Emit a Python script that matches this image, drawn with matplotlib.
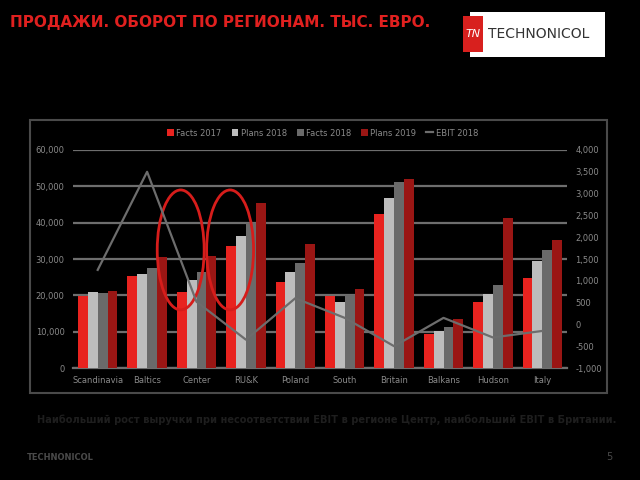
import matplotlib
matplotlib.use("Agg")
from matplotlib import pyplot as plt
from matplotlib.patches import Rectangle, Ellipse
import numpy as np

regions = ["Scandinavia", "Baltics", "Center", "RU&K", "Poland", "South",
           "Britain", "Balkans", "Hudson", "Italy"]
facts_2017 = [19800, 25400, 20800, 33600, 23700, 19800, 42300, 9300, 18100, 24700]
plans_2018 = [20900, 26000, 24200, 36300, 26300, 18300, 46700, 10200, 20400, 29400]
facts_2018 = [20600, 27600, 26300, 40000, 28800, 20100, 51100, 11400, 22800, 32500]
plans_2019 = [21200, 30600, 30800, 45500, 34000, 21700, 52000, 13500, 41400, 35200]
ebit_2018 = [1250, 3500, 520, -350, 600, 150, -500, 150, -300, -150]

series = [("Facts 2017", facts_2017, "#e8231f"),
          ("Plans 2018", plans_2018, "#bdbdbd"),
          ("Facts 2018", facts_2018, "#6a6a6a"),
          ("Plans 2019", plans_2019, "#9a1614")]

txt = "#8a8a8a"
grid = "#6e6e6e"

fig = plt.figure(figsize=(6.4, 4.8), dpi=100, facecolor="black")

# title and logo
fig.text(10/640, 1 - 22/480, "ПРОДАЖИ. ОБОРОТ ПО РЕГИОНАМ. ТЫС. ЕВРО.",
         color="#e0201f", fontsize=11, fontweight="bold", va="center")
fig.patches.append(Rectangle((470/640, 1 - 57/480), 135/640, 45/480,
                             transform=fig.transFigure, facecolor="white",
                             edgecolor="none"))
fig.patches.append(Rectangle((463/640, 1 - 52/480), 20/640, 36/480,
                             transform=fig.transFigure, facecolor="#d8201e",
                             edgecolor="none"))
fig.text(473/640, 1 - 34/480, "TN", color="white", fontsize=8, style="italic",
         ha="center", va="center")
fig.text(488/640, 1 - 34/480, "TECHNONICOL", color="#333333", fontsize=10,
         va="center", fontweight="medium")

# chart frame
fig.patches.append(Rectangle((30/640, 1 - 393/480), 577/640, 273/480,
                             transform=fig.transFigure, facecolor="none",
                             edgecolor="#4a4a4a", lw=1.5))

ax = fig.add_axes([73/640, 1 - 368/480, 494/640, 218/480])
ax.set_facecolor("black")
x = np.arange(len(regions))
w = 0.2
for i, (name, vals, col) in enumerate(series):
    ax.bar(x + (i - 1.5) * w, vals, w, color=col, label=name, zorder=3)

ax.set_ylim(0, 60000)
ax.set_xlim(-0.5, len(regions) - 0.5)
ax.set_yticks(range(0, 60001, 10000))
ax.set_yticklabels([f"{v:,}" for v in range(0, 60001, 10000)])
ax.yaxis.grid(True, color=grid, lw=1.6, zorder=0)
ax.set_xticks(x)
ax.set_xticklabels(regions)
ax.tick_params(colors=txt, labelsize=6, length=0, pad=6)
for s in ax.spines.values():
    s.set_visible(False)
ax.spines["bottom"].set_visible(True)
ax.spines["bottom"].set_color(grid)
ax.spines["bottom"].set_linewidth(1.6)

ax2 = ax.twinx()
ax2.plot(x, ebit_2018, color="#6d6d6d", lw=1.6, label="EBIT 2018", zorder=4)
ax2.set_ylim(-1000, 4000)
ax2.set_yticks(range(-1000, 4001, 500))
ax2.set_yticklabels([f"{v:,}" for v in range(-1000, 4001, 500)])
ax2.tick_params(colors=txt, labelsize=6, length=0, pad=6)
for s in ax2.spines.values():
    s.set_visible(False)

# highlight circles
for idx in (2, 3):
    ax.add_patch(Ellipse((idx - 0.32, 32500), 0.95, 33000, facecolor="none",
                         edgecolor="#d61d1b", lw=2, zorder=6))

h1, l1 = ax.get_legend_handles_labels()
h2, l2 = ax2.get_legend_handles_labels()
leg = fig.legend(h1 + h2, l1 + l2, loc="center", ncol=5,
                 bbox_to_anchor=(0.504, 1 - 133/480), frameon=False,
                 fontsize=6, labelcolor=txt, handlelength=0.8,
                 handleheight=0.8, columnspacing=1.2, handletextpad=0.3)

fig.text(37/640, 1 - 420/480,
         "Наибольший рост выручки при несоответствии EBIT в регионе Центр, "
         "наибольший EBIT в Британии.",
         color="#1e1e1e", fontsize=7.1, fontweight="bold", va="center")
fig.text(27/640, 1 - 457/480, "TECHNONICOL", color="#4a4a4a", fontsize=6,
         va="center", fontweight="bold")
fig.text(612/640, 1 - 457/480, "5", color="#4a4a4a", fontsize=7,
         va="center", ha="right")

fig.savefig("out.png", dpi=100, facecolor="black")
